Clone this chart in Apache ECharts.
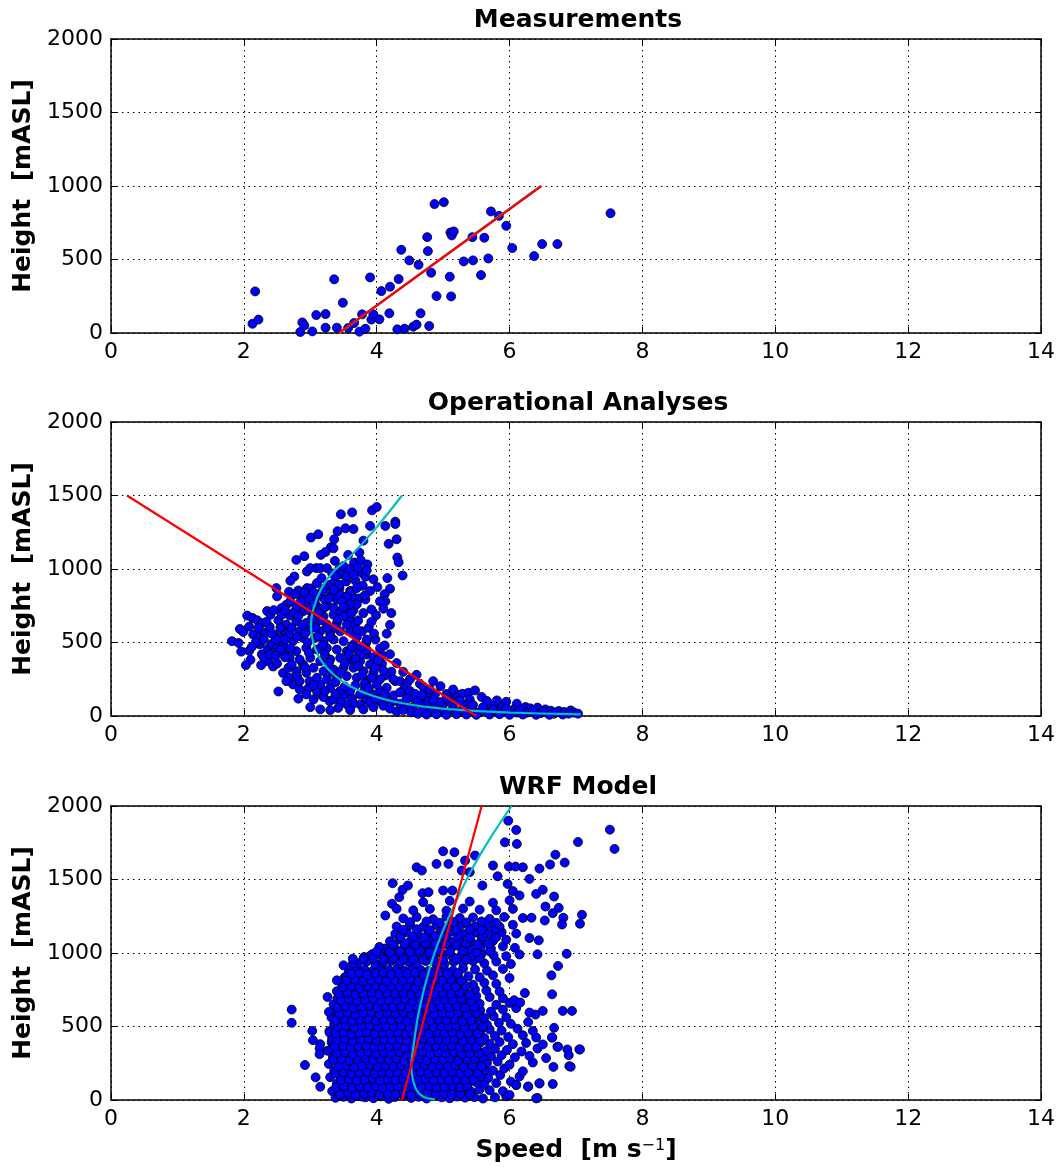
<!DOCTYPE html>
<html>
<head>
<meta charset="utf-8">
<script src="https://cdn.jsdelivr.net/npm/echarts@6/dist/echarts.min.js"></script>
<style>
html,body{margin:0;padding:0;background:#fff;}
#chart{width:1062px;height:1167px;}
</style>
</head>
<body>
<div id="chart"></div>
<script>
// ---------- DATA ----------
const panelTitles = ['Measurements', 'Operational Analyses', 'WRF Model'];
const xTicks = [0, 2, 4, 6, 8, 10, 12, 14];
const yTicks = [0, 500, 1000, 1500, 2000];

// Measurements: [speed, height]
const measPts = [
[2.13,63],[2.17,283],[2.22,91],[2.85,7],[2.88,72],[2.91,52],[3.03,11],[3.09,122],[3.23,129],[3.23,36],
[3.36,365],[3.40,36],[3.49,206],[3.57,34],[3.66,68],[3.74,9],[3.78,127],[3.83,29],[3.90,378],[3.92,91],
[3.95,127],[4.04,93],[4.07,285],[4.19,134],[4.20,315],[4.31,25],[4.33,367],[4.37,566],[4.42,29],[4.49,494],
[4.55,43],[4.60,57],[4.63,464],[4.66,134],[4.76,652],[4.77,557],[4.79,48],[4.82,410],[4.87,877],[4.90,251],
[5.01,890],[5.10,383],[5.11,684],[5.13,664],[5.12,249],[5.16,691],[5.31,487],[5.44,652],[5.45,494],[5.57,394],
[5.62,648],[5.68,507],[5.72,827],[5.84,797],[5.95,729],[6.04,578],[6.37,523],[6.49,605],[6.72,605],[7.52,815]
];
const measFitLinear = [[3.43,0],[6.48,1000]];
const measFitCurve = [[3.44,0],[4.5,352],[5.5,682],[6.47,1000]];

// Operational analyses: [speed, height]
const opaPts = [
[3.46,1372],[3.63,1385],[3.93,1399],[4.00,1422],[4.13,1293],[4.28,1322],[4.28,1306],[3.53,1277],[3.65,1272],[3.41,1257],
[3.01,1214],[3.12,1236],[3.36,1202],[3.80,1193],[3.90,1293],[4.18,1171],[4.30,1202],[3.31,1148],[3.35,1141],[3.23,1116],
[3.16,1096],[3.57,1096],[3.74,1112],[2.79,1062],[2.91,1087],[3.37,1055],[3.66,1044],[3.76,1060],[3.86,1031],[4.31,1078],
[4.33,1046],[4.39,956],[2.95,983],[3.00,1006],[3.09,1006],[3.15,1006],[3.25,1006],[3.33,970],[3.46,965],[3.77,974],
[3.83,947],[4.16,938],[2.76,949],[2.70,920],[3.68,920],[3.79,886],[4.01,877],[4.20,866],[4.12,829],[4.13,780],
[2.49,870],[2.68,845],[2.82,854],[2.95,870],[3.01,868],[3.44,868],[3.60,850],[3.66,805],[3.74,800],[3.83,793],
[3.92,725],[3.99,685],[2.50,814],[2.87,800],[3.15,825],[3.31,820],[3.40,791],[3.53,768],[3.53,723],[2.35,714],
[2.05,683],[2.13,667],[2.20,651],[2.27,631],[2.40,689],[2.52,651],[2.69,683],[1.94,592],[1.99,572],[2.08,608],
[2.14,554],[2.25,547],[2.32,565],[2.39,606],[2.46,554],[2.60,581],[1.82,509],[1.92,497],[1.96,438],[2.08,443],
[2.10,382],[2.03,346],[2.24,488],[2.27,420],[2.36,457],[2.42,490],[2.50,463],[2.37,371],[2.44,337],[2.26,346],
[2.50,357],[2.61,432],[2.59,292],[2.68,262],[2.52,167],[2.82,118],[2.97,188],[3.05,113],[3.11,151],[3.29,102],
[3.51,140],[3.63,120],[3.84,111],[3.95,147],[4.08,416],[4.08,355],[4.00,355],[3.85,418],[3.84,497],[3.70,536],
[3.78,576],[3.66,626],[3.59,667],[4.22,301],[4.13,276],[4.28,237],[4.35,237],[4.46,226],[4.41,181],[4.50,170],
[4.65,219],[4.85,237],[4.96,203],[4.88,151],[4.75,124],[4.68,79],[4.85,57],[5.00,79],[5.12,129],[5.21,147],
[5.29,151],[5.38,158],[5.48,174],[5.40,113],[5.30,79],[5.15,57],[5.58,129],[5.66,102],[5.81,106],[5.95,97],
[5.76,68],[5.89,61],[6.11,84],[6.06,45],[6.24,61],[6.31,52],[6.42,57],[6.54,45],[6.62,36],[6.74,34],
[6.82,27],[6.92,38],[6.97,23],[7.03,16],[6.89,16],[6.67,16],[6.47,20],[6.26,23],[6.11,23],[5.96,29],
[5.81,34],[5.66,38],[5.56,27],[5.46,34],[5.36,45],[5.26,29],[5.06,23],[4.95,34],[4.80,29],[4.70,45],
[4.55,57],[4.45,68],[4.35,84],[4.25,102],[4.15,113],[4.05,102],[3.90,90],[3.75,79],[3.65,84],[3.55,79],
[3.45,97],[3.35,113],[3.20,129],[3.10,170],[2.94,147],[2.84,181],[2.74,215],[2.64,237],[2.84,237],[2.99,237],
[3.15,215],[3.30,192],[3.45,170],[3.60,170],[3.75,147],[3.90,151],[4.05,170],[4.15,192],[4.00,215],[3.85,237],
[3.70,260],[3.55,271],[3.40,260],[3.25,249],[3.10,260],[2.94,294],[2.79,305],[2.89,350],[3.05,328],[3.20,305],
[3.35,316],[3.50,328],[3.65,328],[3.80,305],[3.95,294],[3.90,350],[3.75,373],[3.60,384],[3.45,396],[3.30,384],
[3.15,373],[3.00,396],[2.84,384],[2.69,396],[2.67,328],[2.79,441],[2.94,463],[3.10,452],[3.25,463],[3.40,452],
[3.55,441],[3.70,452],[3.75,418],[3.65,486],[3.50,509],[3.35,520],[3.20,509],[3.07,531],[2.89,531],[2.74,509],
[2.59,486],[2.54,531],[2.69,554],[2.84,576],[2.99,588],[3.15,576],[3.30,565],[3.45,576],[3.60,576],[3.55,622],
[3.40,633],[3.25,622],[3.10,644],[2.94,633],[2.79,644],[2.64,622],[2.57,689],[2.74,701],[2.89,712],[3.04,689],
[3.20,678],[3.35,689],[3.45,712],[3.50,678],[3.35,735],[3.25,757],[3.10,746],[2.94,757],[2.79,746],[2.64,757],
[2.57,735],[2.86,780],[3.07,791],[3.22,791],[3.35,825],[3.45,825],[3.55,814],[3.30,893],[3.37,915],[3.44,893],
[3.22,870],[3.10,904],[3.17,938],[3.35,859],[3.54,915],[3.62,850],[3.70,870],[3.44,1006],[3.49,983],
[3.00,60],[3.15,45],[3.30,40],[3.42,55],[3.60,40],[3.80,45],[3.95,60],[4.10,70],[4.20,50],[4.30,30],
[4.40,40],[4.52,25],[4.62,15],[4.75,10],[4.90,12],[5.05,8],[5.20,12],[5.35,10],[5.50,8],[5.70,10],
[5.85,12],[6.00,8],[6.20,10],[6.40,8],[6.60,8],[6.80,10],[3.05,210],[3.22,170],[3.38,150],[3.52,200],
[3.68,210],[3.82,190],[3.98,120],[4.12,150],[4.25,140],[4.35,160],[4.55,120],[4.62,95],[4.78,100],[4.95,95],
[5.10,100],[5.25,105],[5.45,75],[5.60,60],[5.75,45],[5.95,50],[6.15,40],[6.35,35],[6.50,30],[6.70,25],
[4.58,150],[4.72,180],[4.05,250],[4.10,310],[3.95,400],[3.85,450],[3.98,520],[3.88,600],[3.72,650],[3.80,700],
[3.65,720],[3.70,760],[3.48,780],
[2.22,600],[2.30,520],[2.18,500],[2.12,470],[2.30,400],[2.40,420],[2.48,520],[2.55,600],[2.62,520],[2.70,460],
[2.72,600],[2.80,540],[2.82,680],[2.88,620],[2.92,560],[2.96,500],[2.98,430],[2.92,330],[2.80,270],[2.72,350],
[2.62,400],[2.55,450],[2.48,410],[2.42,560],[2.34,640],[2.45,720],[2.62,720],[2.70,780],[2.78,830],[2.92,840],
[2.98,720],[3.02,660],[3.08,600],[3.12,540],[3.18,480],[3.22,420],[3.28,360],[3.32,300],[3.38,230],[3.45,300],
[3.52,360],[3.58,420],[3.62,470],[3.68,390],[3.72,340],[3.78,280],[3.82,220],[3.88,190],[3.92,260],[3.98,330],
[4.02,380],[4.05,460],[3.96,560],[3.92,640],[3.85,520],[3.78,470],[3.70,590],[3.62,700],[3.60,760],[3.50,740],
[3.42,660],[3.38,600],[3.30,540],[3.25,600],[3.18,650],[3.15,720],[3.22,740],[3.28,800],[3.18,850],[3.05,840],
[2.98,800],[3.05,760],[3.12,700],[3.38,950],[3.50,1020],[3.60,1000],[3.55,950],[3.65,960],[3.72,1010],[3.85,990],
[3.95,930],[3.90,850],[3.82,820],[4.05,780],[4.10,730],[4.20,620],[4.22,700],[4.15,560],[4.12,480],[4.20,420],
[4.30,360],[4.25,250],[4.40,300],[4.50,250],[4.60,280],[4.70,200],[4.80,180],[5.05,150],[5.15,180],[4.45,120],
[4.68,140],[4.85,110],[5.05,120]
];
const opaFitLinear = [[0.24,1500],[5.50,0]];
const opaFitCurve = [[7.07,11],[6.01,23],[5.36,38],[4.85,57],[4.35,90],[3.95,136],[3.60,203],[3.35,282],[3.17,373],[3.07,463],
[3.02,554],[3.01,621],[3.05,734],[3.17,870],[3.35,983],[3.60,1085],[3.90,1232],[4.15,1367],[4.38,1500]];

// WRF model: [speed, height]
const wrfPts = [
[3.38,15],[3.50,22],[3.62,10],[3.71,28],[3.83,18],[3.95,12],[4.06,25],[4.18,8],[4.27,20],[4.40,30],[4.52,14],[4.63,22],[4.75,10],[4.86,26],[4.98,18],[5.10,12],[5.21,24],[5.33,16],[5.47,20],[5.60,10],[5.78,18],[5.95,25],[6.42,14],
[3.33,60],[3.46,72],[3.57,58],[3.69,68],[3.80,75],[3.91,62],[4.03,70],[4.14,55],[4.25,66],[4.37,78],[4.49,60],[4.60,72],[4.72,64],[4.83,58],[4.95,70],[5.07,76],[5.18,62],[5.30,68],[5.42,58],[5.55,72],[5.70,66],[5.90,60],[6.10,102],
[3.40,110],[3.52,120],[3.64,105],[3.76,118],[3.88,125],[3.99,108],[4.11,115],[4.22,122],[4.34,112],[4.45,106],[4.57,120],[4.68,114],[4.80,126],[4.92,110],[5.03,118],[5.15,104],[5.27,122],[5.38,112],[5.50,120],[5.62,108],[5.80,115],[6.02,125],[6.28,92],
[3.30,155],[3.44,168],[3.56,160],[3.67,152],[3.79,170],[3.90,162],[4.02,156],[4.13,172],[4.26,158],[4.38,165],[4.50,150],[4.61,168],[4.73,160],[4.84,155],[4.96,172],[5.08,160],[5.20,165],[5.32,152],[5.44,168],[5.57,158],[5.68,150],[5.86,170],[6.15,160],[6.45,113],
[3.36,200],[3.48,212],[3.60,205],[3.72,198],[3.84,215],[3.96,205],[4.08,210],[4.19,200],[4.31,215],[4.43,205],[4.54,198],[4.66,210],[4.78,202],[4.89,215],[5.01,200],[5.13,208],[5.25,212],[5.36,198],[5.49,210],[5.63,205],[5.75,200],[5.92,215],[6.20,195],[6.66,225],
[3.28,245],[3.41,258],[3.53,250],[3.65,242],[3.77,262],[3.89,250],[4.00,255],[4.12,245],[4.24,258],[4.35,248],[4.47,262],[4.59,250],[4.70,242],[4.82,258],[4.94,250],[5.05,245],[5.17,260],[5.29,252],[5.41,245],[5.53,258],[5.66,250],[5.82,262],[6.00,240],[6.35,255],[6.90,230],
[3.34,290],[3.46,302],[3.58,295],[3.70,288],[3.81,305],[3.93,295],[4.05,300],[4.16,288],[4.28,302],[4.40,292],[4.51,305],[4.63,295],[4.75,288],[4.87,300],[4.98,292],[5.10,305],[5.22,295],[5.34,288],[5.46,302],[5.58,290],[5.72,298],[5.88,305],[6.08,290],[6.30,300],[6.55,285],
[3.26,335],[3.39,348],[3.51,340],[3.63,332],[3.75,350],[3.87,340],[3.98,345],[4.10,335],[4.22,350],[4.33,340],[4.45,330],[4.57,348],[4.68,340],[4.80,335],[4.92,350],[5.04,342],[5.15,335],[5.27,350],[5.39,338],[5.51,345],[5.64,332],[5.78,348],[5.96,340],[6.18,330],[6.42,350],[6.72,362],[7.05,344],
[3.15,380],[3.32,392],[3.44,385],[3.56,378],[3.68,395],[3.80,385],[3.92,390],[4.03,380],[4.15,395],[4.27,385],[4.38,378],[4.50,392],[4.62,385],[4.74,380],[4.85,395],[4.97,388],[5.09,380],[5.21,392],[5.32,385],[5.44,378],[5.56,390],[5.70,382],[5.85,395],[6.05,380],[6.25,388],[6.50,378],
[3.33,425],[3.46,438],[3.58,430],[3.70,422],[3.82,440],[3.94,430],[4.06,435],[4.18,425],[4.30,440],[4.41,430],[4.53,422],[4.65,438],[4.77,430],[4.88,425],[5.00,440],[5.12,432],[5.24,425],[5.36,438],[5.48,430],[5.62,422],[5.78,435],[5.98,428],[6.20,440],[6.40,425],[6.64,425],
[3.29,470],[3.41,482],[3.53,475],[3.65,468],[3.77,485],[3.89,475],[4.01,480],[4.13,470],[4.25,485],[4.36,475],[4.48,468],[4.60,482],[4.72,475],[4.84,470],[4.95,485],[5.07,478],[5.19,470],[5.31,482],[5.43,475],[5.56,468],[5.70,480],[5.88,472],[6.12,485],[6.35,470],
[3.36,515],[3.48,528],[3.60,520],[3.72,512],[3.84,530],[3.96,520],[4.08,525],[4.20,515],[4.32,530],[4.43,520],[4.55,512],[4.67,528],[4.79,520],[4.91,515],[5.02,530],[5.14,522],[5.26,515],[5.38,528],[5.52,520],[5.66,512],[5.84,525],[6.02,518],[6.28,530],
[3.32,560],[3.44,572],[3.56,565],[3.68,558],[3.80,575],[3.92,565],[4.04,570],[4.16,560],[4.28,575],[4.40,565],[4.52,558],[4.63,572],[4.75,565],[4.87,560],[4.99,575],[5.11,568],[5.23,560],[5.35,572],[5.48,565],[5.62,558],[5.76,570],[5.95,562],
[3.38,605],[3.50,618],[3.62,610],[3.74,602],[3.86,620],[3.98,610],[4.10,615],[4.22,605],[4.34,620],[4.46,610],[4.58,602],[4.70,618],[4.81,610],[4.93,605],[5.05,620],[5.17,612],[5.29,605],[5.42,618],[5.56,610],[5.72,602],[5.90,615],[6.10,625],
[3.35,650],[3.47,662],[3.59,655],[3.71,648],[3.83,665],[3.95,655],[4.07,660],[4.19,650],[4.31,665],[4.43,655],[4.55,648],[4.67,662],[4.78,655],[4.90,650],[5.02,665],[5.14,658],[5.26,650],[5.40,662],[5.55,655],[5.80,648],[6.00,660],
[3.42,695],[3.54,708],[3.66,700],[3.78,692],[3.90,710],[4.02,700],[4.14,705],[4.26,695],[4.38,710],[4.50,700],[4.62,692],[4.74,708],[4.86,700],[4.98,695],[5.10,710],[5.22,702],[5.35,695],[5.50,708],[5.70,700],[5.90,692],
[3.40,740],[3.52,752],[3.64,745],[3.76,738],[3.88,755],[4.00,745],[4.12,750],[4.24,740],[4.36,755],[4.48,745],[4.60,738],[4.72,752],[4.84,745],[4.96,740],[5.08,755],[5.20,748],[5.33,740],[5.48,752],[5.65,745],[5.85,738],
[3.48,785],[3.60,798],[3.72,790],[3.84,782],[3.96,800],[4.08,790],[4.20,795],[4.32,785],[4.44,800],[4.56,790],[4.68,782],[4.80,798],[4.92,790],[5.04,785],[5.16,800],[5.30,792],[5.45,785],[5.62,798],[5.80,790],
[3.52,835],[3.64,848],[3.76,840],[3.88,832],[4.00,850],[4.12,840],[4.24,845],[4.36,835],[4.48,850],[4.60,840],[4.72,832],[4.84,848],[4.96,840],[5.08,835],[5.22,850],[5.38,842],[5.55,835],[5.75,848],[6.00,830],
[3.58,880],[3.70,892],[3.82,885],[3.94,878],[4.06,895],[4.18,885],[4.30,890],[4.42,880],[4.54,895],[4.66,885],[4.78,878],[4.90,892],[5.02,885],[5.15,880],[5.30,895],[5.48,888],[5.66,880],[5.90,892],
[3.72,930],[3.85,942],[3.98,925],[4.10,938],[4.22,945],[4.35,930],[4.48,940],[4.60,928],[4.74,945],[4.88,935],[5.02,925],[5.16,940],[5.30,932],[5.45,945],[5.62,930],[5.80,942],[6.02,925],
[3.90,980],[4.05,992],[4.18,975],[4.30,990],[4.44,985],[4.58,978],[4.72,995],[4.86,982],[5.00,990],[5.14,975],[5.28,988],[5.42,980],[5.58,995],[5.76,985],[5.95,978],[6.15,990],
[4.12,1030],[4.26,1042],[4.40,1025],[4.54,1040],[4.68,1035],[4.82,1028],[4.96,1045],[5.12,1032],[5.26,1040],[5.40,1025],[5.56,1038],[5.72,1030],[5.90,1045],[6.08,1035],
[4.20,1080],[4.35,1092],[4.50,1078],[4.66,1090],[4.80,1085],[4.95,1095],[5.10,1080],[5.25,1088],[5.42,1078],[5.58,1092],[5.75,1082],[5.95,1090],
[4.28,1130],[4.45,1142],[4.62,1128],[4.78,1140],[4.95,1135],[5.12,1145],[5.30,1130],[5.50,1138],[5.68,1128],[5.88,1142],[6.10,1132],
[4.30,1180],[4.50,1192],[4.70,1178],[4.90,1190],[5.10,1185],[5.28,1195],[5.48,1180],[5.66,1188],[5.85,1178],[6.05,1192],
[4.40,1235],[4.60,1245],[4.85,1230],[5.05,1248],[5.25,1238],[5.45,1242],[5.70,1232],[5.92,1245],[6.20,1238],
[4.55,1290],[4.80,1300],[5.05,1288],[5.30,1302],[5.55,1295],[5.80,1290],[6.05,1300],
[4.70,1345],[5.10,1355],[5.40,1350],[5.75,1342],[6.00,1358],
[7.51,1839],[7.58,1708],[5.98,1900],[6.10,1837],[5.93,1753],[6.11,1742],[7.03,1755],[6.69,1669],[6.83,1615],[6.61,1602],
[6.45,1574],[5.00,1692],[5.17,1685],[5.48,1663],[5.33,1629],[4.90,1606],[4.60,1583],[4.68,1561],[5.08,1606],[5.40,1550],
[5.28,1561],[5.75,1595],[5.82,1522],[5.99,1588],[6.09,1588],[6.20,1583],[4.24,1475],[4.39,1430],[4.47,1459],[4.34,1380],
[4.23,1335],[4.30,1301],[4.13,1255],[4.69,1407],[4.78,1414],[5.00,1425],[5.14,1425],[5.59,1459],[5.97,1470],[6.05,1421],
[6.15,1391],[6.30,1504],[6.40,1402],[6.50,1430],[6.67,1384],[6.74,1307],[6.54,1316],[6.65,1271],[6.81,1240],[7.09,1260],
[7.06,1199],[6.79,1194],[6.53,1221],[6.33,1240],[6.30,1102],[6.44,1086],[6.42,991],[6.86,995],[6.73,912],[6.63,848],
[6.64,719],[6.80,606],[6.94,606],[6.50,606],[6.39,581],[6.30,595],[6.07,679],[6.16,663],[6.23,728],[6.67,491],
[6.64,425],[6.73,362],[6.87,344],[7.06,344],[6.89,305],[6.92,226],[6.65,109],[6.45,113],[6.28,90],[6.10,102],
[6.00,34],[6.40,11],[2.72,615],[2.72,525],[3.03,470],[3.04,407],[2.92,238],[3.08,154],[3.15,90],[3.29,459],
[3.26,701],[3.28,599],[3.14,351],[3.14,312],[3.33,407],[3.33,351],[3.50,916],[3.64,927],[3.64,961],[3.81,973],
[3.93,991],[4.04,1041],[4.18,1007],[3.41,688],[3.40,814],[3.54,837],[3.45,249],[3.43,90],[3.43,34],[3.58,34],[3.78,23],
[3.45,38],[3.57,46],[3.68,35],[3.81,43],[3.93,49],[4.04,36],[4.17,44],[4.29,40],[4.41,47],[4.52,34],[4.65,42],[4.77,48],[4.89,38],[5.01,44],[5.13,36],[5.26,42],[5.40,40],
[3.39,88],[3.51,94],[3.63,84],[3.75,92],[3.86,86],[3.98,96],[4.09,82],[4.21,90],[4.32,95],[4.44,85],[4.56,92],[4.67,86],[4.79,94],[4.90,84],[5.02,90],[5.14,96],[5.26,86],[5.36,92],
[3.46,135],[3.58,142],[3.70,130],[3.82,138],[3.94,145],[4.05,132],[4.17,140],[4.28,134],[4.40,143],[4.51,130],[4.63,138],[4.74,144],[4.86,132],[4.98,140],[5.09,134],[5.21,142],[5.33,136],[5.46,140],
[3.38,180],[3.50,188],[3.62,176],[3.74,185],[3.85,192],[3.97,178],[4.08,186],[4.20,182],[4.31,190],[4.43,177],[4.55,185],[4.66,192],[4.78,180],[4.90,188],[5.02,182],[5.14,190],[5.26,178],[5.38,186],[5.52,182],
[3.43,228],[3.55,235],[3.66,222],[3.78,232],[3.90,238],[4.02,225],[4.13,233],[4.25,228],[4.37,236],[4.48,222],[4.60,231],[4.72,238],[4.84,226],[4.95,234],[5.07,228],[5.19,236],[5.31,224],[5.45,232],[5.58,228],
[3.35,272],[3.47,280],[3.59,268],[3.71,276],[3.83,284],[3.95,270],[4.06,278],[4.18,272],[4.30,282],[4.41,268],[4.53,276],[4.65,284],[4.76,270],[4.88,278],[5.00,274],[5.11,282],[5.23,268],[5.36,276],[5.48,280],
[3.40,318],[3.52,325],[3.64,312],[3.76,322],[3.87,328],[3.99,314],[4.11,322],[4.22,318],[4.34,326],[4.46,312],[4.57,320],[4.69,328],[4.81,315],[4.93,323],[5.04,318],[5.16,326],[5.28,312],[5.40,320],[5.54,316],
[3.37,362],[3.49,370],[3.61,356],[3.72,366],[3.84,372],[3.96,358],[4.08,366],[4.19,362],[4.31,370],[4.43,356],[4.54,364],[4.66,372],[4.78,360],[4.89,368],[5.01,362],[5.13,370],[5.25,356],[5.37,364],[5.50,360],
[3.40,408],[3.52,415],[3.64,402],[3.76,412],[3.88,418],[4.00,404],[4.11,412],[4.23,408],[4.35,416],[4.46,402],[4.58,410],[4.70,418],[4.82,405],[4.93,413],[5.05,408],[5.17,416],[5.29,402],[5.42,410],[5.55,406],
[3.38,452],[3.50,460],[3.62,446],[3.74,456],[3.85,462],[3.97,448],[4.09,456],[4.20,452],[4.32,460],[4.44,446],[4.55,454],[4.67,462],[4.79,450],[4.91,458],[5.02,452],[5.14,460],[5.26,446],[5.38,454],[5.52,450],
[3.42,498],[3.54,505],[3.66,492],[3.78,502],[3.90,508],[4.02,494],[4.14,502],[4.26,498],[4.37,506],[4.49,492],[4.61,500],[4.73,508],[4.85,495],[4.97,503],[5.08,498],[5.20,506],[5.32,492],[5.45,500],[5.60,496],
[3.39,542],[3.51,550],[3.63,536],[3.75,546],[3.87,552],[3.99,538],[4.10,546],[4.22,542],[4.34,550],[4.46,536],[4.57,544],[4.69,552],[4.81,540],[4.93,548],[5.05,542],[5.17,550],[5.29,536],[5.42,544],
[3.44,588],[3.56,595],[3.68,582],[3.80,592],[3.92,598],[4.04,584],[4.16,592],[4.28,588],[4.40,596],[4.52,582],[4.64,590],[4.76,598],[4.87,585],[4.99,593],[5.11,588],[5.23,596],[5.36,582],[5.50,590],
[3.41,632],[3.53,640],[3.65,626],[3.77,636],[3.89,642],[4.01,628],[4.13,636],[4.25,632],[4.37,640],[4.49,626],[4.61,634],[4.73,642],[4.85,630],[4.96,638],[5.08,632],[5.20,640],[5.33,626],[5.47,634],
[3.46,678],[3.58,685],[3.70,672],[3.82,682],[3.94,688],[4.06,674],[4.18,682],[4.30,678],[4.42,686],[4.54,672],[4.66,680],[4.78,688],[4.90,675],[5.02,683],[5.14,678],[5.27,686],[5.42,672],
[3.44,722],[3.56,730],[3.68,716],[3.80,726],[3.92,732],[4.04,718],[4.16,726],[4.28,722],[4.40,730],[4.52,716],[4.64,724],[4.76,732],[4.88,720],[5.00,728],[5.12,722],[5.25,730],[5.40,716],
[3.50,768],[3.62,775],[3.74,762],[3.86,772],[3.98,778],[4.10,764],[4.22,772],[4.34,768],[4.46,776],[4.58,762],[4.70,770],[4.82,778],[4.94,765],[5.06,773],[5.19,768],[5.34,776],
[3.55,812],[3.67,820],[3.79,806],[3.91,816],[4.03,822],[4.15,808],[4.27,816],[4.39,812],[4.51,820],[4.63,806],[4.75,814],[4.87,822],[4.99,810],[5.12,818],[5.27,812],
[3.62,858],[3.74,865],[3.86,852],[3.98,862],[4.10,868],[4.22,854],[4.34,862],[4.46,858],[4.58,866],[4.70,852],[4.82,860],[4.94,868],[5.07,855],[5.22,863],
[3.80,958],[3.95,962],[4.10,955],[4.25,965],[4.40,958],[4.55,960],[4.70,955],[4.85,965],[5.00,958],[5.20,962],[5.35,955],[5.55,965],
[4.00,1010],[4.20,1005],[4.35,1012],[4.50,1008],[4.65,1015],[4.80,1005],[4.95,1012],[5.10,1008],[5.30,1015],[5.50,1005],[5.70,1012],
[4.25,1058],[4.42,1062],[4.58,1055],[4.74,1065],[4.88,1058],[5.04,1062],[5.20,1055],[5.35,1065],[5.52,1058],[5.68,1062],
[4.36,1108],[4.55,1112],[4.72,1105],[4.88,1115],[5.04,1108],[5.22,1112],[5.40,1105],[5.60,1115],[5.80,1108],
[4.40,1158],[4.60,1162],[4.80,1155],[5.00,1165],[5.20,1158],[5.40,1162],[5.58,1155],[5.78,1165],
[4.50,1210],[4.75,1215],[4.95,1205],[5.15,1212],[5.35,1208],[5.58,1215],[5.80,1205]
];
const wrfFitLinear = [[4.38,0],[5.58,2000]];
const wrfFitCurve = [[4.88,3],[4.70,22],[4.60,68],[4.54,150],[4.52,226],[4.56,385],[4.62,566],[4.72,769],[4.85,973],
[5.00,1154],[5.20,1357],[5.45,1583],[5.75,1810],[6.03,2000]];

const panelPts = [measPts, opaPts, wrfPts];
const panelLin = [measFitLinear, opaFitLinear, wrfFitLinear];
const panelCurve = [measFitCurve, opaFitCurve, wrfFitCurve];

// ---------- CHART ----------
const FONT = 'DejaVu Sans';
const gridTops = [39, 422, 806];
const PW = 930, PH = 294, PL = 111;

const grids = [], xAxes = [], yAxes = [], series = [], graphics = [];
const dotted = { show: true, lineStyle: { color: '#000', type: [1.5, 4], width: 1 } };
const plain = v => String(v);

gridTops.forEach((top, i) => {
  grids.push({ left: PL, top: top, width: PW, height: PH, show: false });
  const xBase = { gridIndex: i, type: 'value', min: xTicks[0], max: xTicks[xTicks.length - 1], interval: 2,
    axisLine: { show: true, onZero: false, lineStyle: { color: '#000', width: 1.5 } },
    axisTick: { show: true, inside: true, length: 6, lineStyle: { color: '#000', width: 1 } } };
  xAxes.push(Object.assign({}, xBase, { position: 'bottom',
    axisLabel: { show: true, color: '#000', fontSize: 22, fontFamily: FONT, margin: 8, formatter: plain },
    splitLine: dotted }));
  xAxes.push(Object.assign({}, xBase, { position: 'top', axisLabel: { show: false }, splitLine: { show: false } }));
  const yBase = { gridIndex: i, type: 'value', min: yTicks[0], max: yTicks[yTicks.length - 1], interval: 500,
    axisLine: { show: true, onZero: false, lineStyle: { color: '#000', width: 1.5 } },
    axisTick: { show: true, inside: true, length: 6, lineStyle: { color: '#000', width: 1 } } };
  yAxes.push(Object.assign({}, yBase, { position: 'left',
    axisLabel: { show: true, color: '#000', fontSize: 22, fontFamily: FONT, margin: 8, formatter: plain },
    splitLine: dotted,
    name: 'Height  [mASL]', nameLocation: 'middle', nameGap: 72, nameRotate: 90,
    nameTextStyle: { color: '#000', fontSize: 25, fontWeight: 'bold', fontFamily: FONT } }));
  yAxes.push(Object.assign({}, yBase, { position: 'right', axisLabel: { show: false }, splitLine: { show: false } }));

  series.push({ type: 'scatter', xAxisIndex: 2 * i, yAxisIndex: 2 * i, data: panelPts[i],
    symbolSize: 9, itemStyle: { color: '#0000ff', borderColor: '#000', borderWidth: 0.8, opacity: 1 },
    emphasis: { disabled: true }, z: 2, large: false });
  series.push({ type: 'line', xAxisIndex: 2 * i, yAxisIndex: 2 * i, data: panelCurve[i], smooth: 0.3,
    showSymbol: false, symbol: 'none', lineStyle: { color: '#00bfbf', width: 2.2 }, z: 3, clip: true });
  series.push({ type: 'line', xAxisIndex: 2 * i, yAxisIndex: 2 * i, data: panelLin[i],
    showSymbol: false, symbol: 'none', lineStyle: { color: '#ff0000', width: 2.2 }, z: 4, clip: true });

  graphics.push({ type: 'text', x: 578, y: top - 19, style: { text: panelTitles[i], textAlign: 'center',
    textVerticalAlign: 'middle', font: 'bold 25px "' + FONT + '"', fill: '#000' } });
});

graphics.push({ type: 'text', x: 576, y: 1150, style: {
  text: '{b|Speed  [m s}{s|\u22121}{b|]}', textAlign: 'center', textVerticalAlign: 'middle',
  rich: { b: { font: 'bold 25px "' + FONT + '"', fill: '#000' }, s: { font: '16px "' + FONT + '"', fill: '#000', verticalAlign: 'top' } } } });

const chart = echarts.init(document.getElementById('chart'), null, { renderer: 'canvas' });
chart.setOption({
  backgroundColor: '#fff',
  animation: false,
  grid: grids, xAxis: xAxes, yAxis: yAxes, series: series, graphic: graphics
});
</script>
</body>
</html>
